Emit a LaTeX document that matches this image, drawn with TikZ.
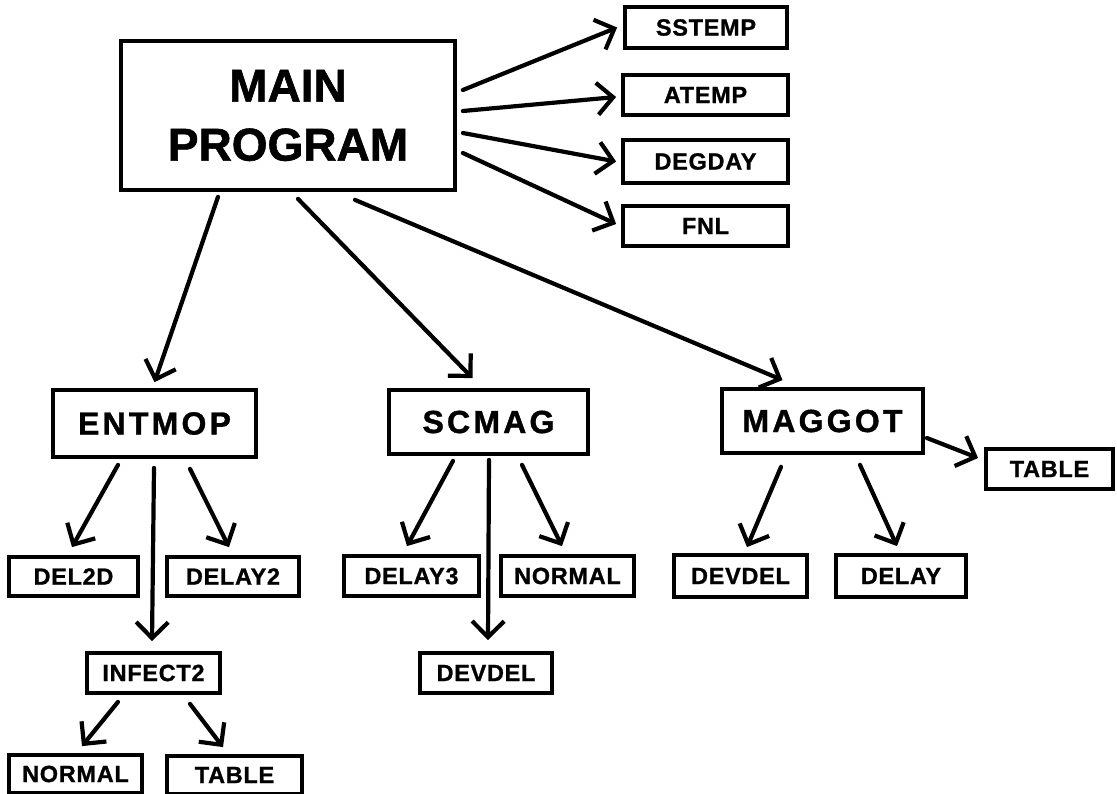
\documentclass[tikz,border=0pt]{standalone}
\usepackage{fontspec}
\setmainfont{Liberation Sans}
\newfontfamily\bigfont{Liberation Sans Bold}[FakeBold=1.2]
\newfontfamily\midfont{Liberation Sans Bold}[LetterSpace=10, FakeBold=1.2]
\newfontfamily\smallfont{Liberation Sans Bold}[LetterSpace=3, FakeBold=1]
\usetikzlibrary{arrows.meta}

\tikzset{
  box/.style={draw=black, line width=3.8pt, fill=white, inner sep=0pt, align=center},
  bigbox/.style={box, font=\bigfont\fontsize{46}{58}\selectfont},
  midbox/.style={box, font=\midfont\fontsize{32}{38}\selectfont},
  smallbox/.style={box, font=\smallfont\fontsize{23.5}{28}\selectfont},
  arr/.style={line width=4.2pt, line cap=round, line join=round,
    -{Straight Barb[length=16pt, width=32pt, line width=4.2pt]}},
}

\begin{document}
\begin{tikzpicture}[x=1pt, y=-1pt]
\useasboundingbox (0,0) rectangle (1117,793);

% top-level program
\node[bigbox, minimum width=334pt, minimum height=149pt] (main) at (288,115.5) {MAIN\\[1pt]PROGRAM};

% utility routines called from the main program
\node[smallbox, minimum width=162pt, minimum height=41pt] (sstemp) at (706,27.5) {SSTEMP};
\node[smallbox, minimum width=165pt, minimum height=40pt] (atemp)  at (705.5,95) {ATEMP};
\node[smallbox, minimum width=165pt, minimum height=43pt] (degday) at (705.5,161.5) {DEGDAY};
\node[smallbox, minimum width=165pt, minimum height=40pt] (fnl)    at (705.5,226) {FNL};

% sub-models
\node[midbox, minimum width=203pt, minimum height=67pt] (entmop) at (154.5,423.5) {ENTMOP};
\node[midbox, minimum width=199pt, minimum height=64pt] (scmag)  at (488.5,422) {SCMAG};
\node[midbox, minimum width=201pt, minimum height=64pt] (maggot) at (822.5,421) {MAGGOT};

% subroutines of the sub-models
\node[smallbox, minimum width=127pt, minimum height=40pt] (table1)  at (1049.5,469) {TABLE};
\node[smallbox, minimum width=129pt, minimum height=39pt] (del2d)   at (73.5,576.5) {DEL2D};
\node[smallbox, minimum width=132pt, minimum height=39pt] (delay2)  at (233,576.5) {DELAY2};
\node[smallbox, minimum width=135pt, minimum height=40pt] (delay3)  at (411.5,576) {DELAY3};
\node[smallbox, minimum width=133pt, minimum height=40pt] (normal1) at (567.5,576) {NORMAL};
\node[smallbox, minimum width=133pt, minimum height=42pt] (devdel1) at (740.5,576) {DEVDEL};
\node[smallbox, minimum width=130pt, minimum height=42pt] (delay)   at (901,576) {DELAY};
\node[smallbox, minimum width=133pt, minimum height=40pt] (infect2) at (153.5,673) {INFECT2};
\node[smallbox, minimum width=132pt, minimum height=40pt] (devdel2) at (486,673) {DEVDEL};
\node[smallbox, minimum width=133pt, minimum height=38pt] (normal2) at (75.5,774) {NORMAL};
\node[smallbox, minimum width=135pt, minimum height=38pt] (table2)  at (234.5,775) {TABLE};

% main program -> utilities
\draw[arr] ([xshift=6pt,yshift=25.5pt]main.east) -- ([xshift=-6pt]sstemp.west);
\draw[arr] ([xshift=6pt,yshift=4.5pt]main.east) -- ([xshift=-5pt,yshift=-2pt]atemp.west);
\draw[arr] ([xshift=6pt,yshift=-17.5pt]main.east) -- ([xshift=-5pt]degday.west);
\draw[arr] ([xshift=6pt,yshift=-37.5pt]main.east) -- ([xshift=-5pt,yshift=2pt]fnl.west);

% main program -> sub-models
\draw[arr] ([xshift=-70pt,yshift=-5pt]main.south) -- ([xshift=0pt,yshift=6pt]entmop.north);
\draw[arr] ([xshift=10pt,yshift=-7pt]main.south) -- ([xshift=-16pt,yshift=10pt]scmag.north);
\draw[arr] ([xshift=67pt,yshift=-8pt]main.south) -- ([xshift=-40pt,yshift=7pt]maggot.north);

% ENTMOP calls
\draw[arr] ([xshift=-36.5pt,yshift=-6pt]entmop.south) -- ([xshift=-1.5pt,yshift=8pt]del2d.north);
\draw[arr] ([xshift=-0.5pt,yshift=-9pt]entmop.south) -- ([xshift=-1.5pt,yshift=10pt]infect2.north);
\draw[arr] ([xshift=35.5pt,yshift=-10pt]entmop.south) -- ([xshift=-4pt,yshift=8pt]delay2.north);

% SCMAG calls
\draw[arr] ([xshift=-35.5pt,yshift=-5pt]scmag.south) -- ([xshift=-4.5pt,yshift=8pt]delay3.north);
\draw[arr] ([xshift=0.5pt,yshift=-4pt]scmag.south) -- ([xshift=2pt,yshift=11pt]devdel2.north);
\draw[arr] ([xshift=33.5pt,yshift=-9pt]scmag.south) -- ([xshift=-5.5pt,yshift=8pt]normal1.north);

% MAGGOT calls
\draw[arr] ([xshift=-41.5pt,yshift=-12pt]maggot.south) -- ([xshift=6.5pt,yshift=6pt]devdel1.north);
\draw[arr] ([xshift=37.5pt,yshift=-10pt]maggot.south) -- ([xshift=-4pt,yshift=7pt]delay.north);
\draw[arr] ([xshift=2pt,yshift=-17pt]maggot.east) -- ([xshift=-6pt,yshift=11pt]table1.west);

% INFECT2 calls
\draw[arr] ([xshift=-35.5pt,yshift=-7pt]infect2.south) -- ([xshift=6.5pt,yshift=7pt]normal2.north);
\draw[arr] ([xshift=36.5pt,yshift=-9pt]infect2.south) -- ([xshift=-11.5pt,yshift=7pt]table2.north);
\end{tikzpicture}
\end{document}
